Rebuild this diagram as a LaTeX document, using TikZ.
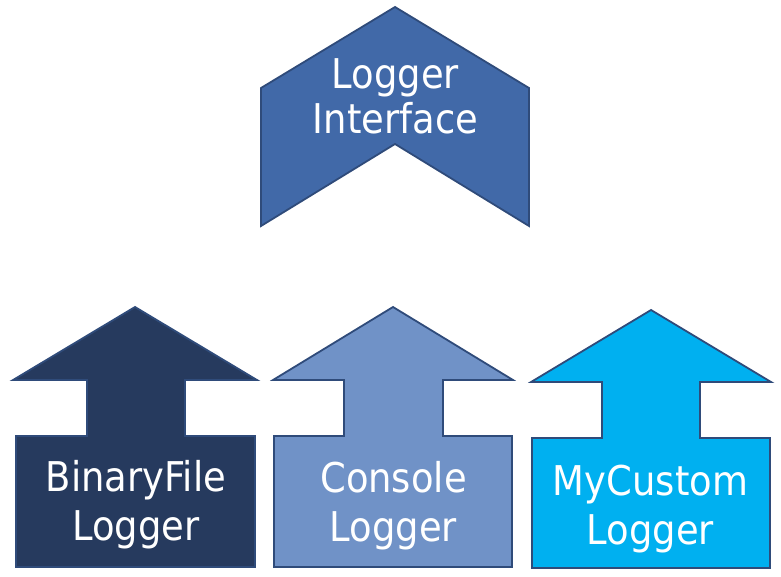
\documentclass[tikz,border=0pt]{standalone}
\usepackage{fontspec}
\setmainfont[FakeStretch=0.9]{DejaVu Sans}
\definecolor{topblue}{HTML}{4169A8}
\definecolor{darkblue}{HTML}{263A5E}
\definecolor{midblue}{HTML}{7092C7}
\definecolor{skyblue}{HTML}{00B0F0}
\definecolor{edgeblue}{HTML}{2F4B7A}
\tikzset{
  shapebox/.style={draw=edgeblue, line width=1.8pt, line join=miter},
  lbl/.style={text=white, align=center, inner sep=0pt, font=\fontsize{41}{45}\selectfont},
  lblb/.style={lbl, font=\fontsize{41}{49}\selectfont}
}
\begin{document}
\begin{tikzpicture}[x=1pt,y=-1pt]
\useasboundingbox (0,0) rectangle (781,577);
% top chevron
\path[shapebox, fill=topblue] (261,88) -- (395,7) -- (529,88) -- (529,226) -- (395,144) -- (261,226) -- cycle;
\node[lbl] (iface) at (395.5,96) {Logger\\Interface};
% BinaryFile arrow
\path[shapebox, fill=darkblue] (135,307) -- (257,380) -- (185,380) -- (185,436) -- (255,436) -- (255,567) -- (16,567) -- (16,436) -- (87,436) -- (87,380) -- (13,380) -- cycle;
\node[lblb] (binary) at (136,505) {BinaryFile\\Logger};
% Console arrow
\path[shapebox, fill=midblue] (393,307) -- (513,380) -- (443,380) -- (443,436) -- (512,436) -- (512,567) -- (274,567) -- (274,436) -- (344,436) -- (344,380) -- (273,380) -- cycle;
\node[lblb] (console) at (393.5,505.5) {Console\\Logger};
% MyCustom arrow
\path[shapebox, fill=skyblue] (651,310) -- (771,382) -- (700,382) -- (700,438) -- (770,438) -- (770,568) -- (532,568) -- (532,438) -- (602,438) -- (602,382) -- (531,382) -- cycle;
\node[lblb] (custom) at (650.5,509) {MyCustom\\Logger};
\end{tikzpicture}
\end{document}
